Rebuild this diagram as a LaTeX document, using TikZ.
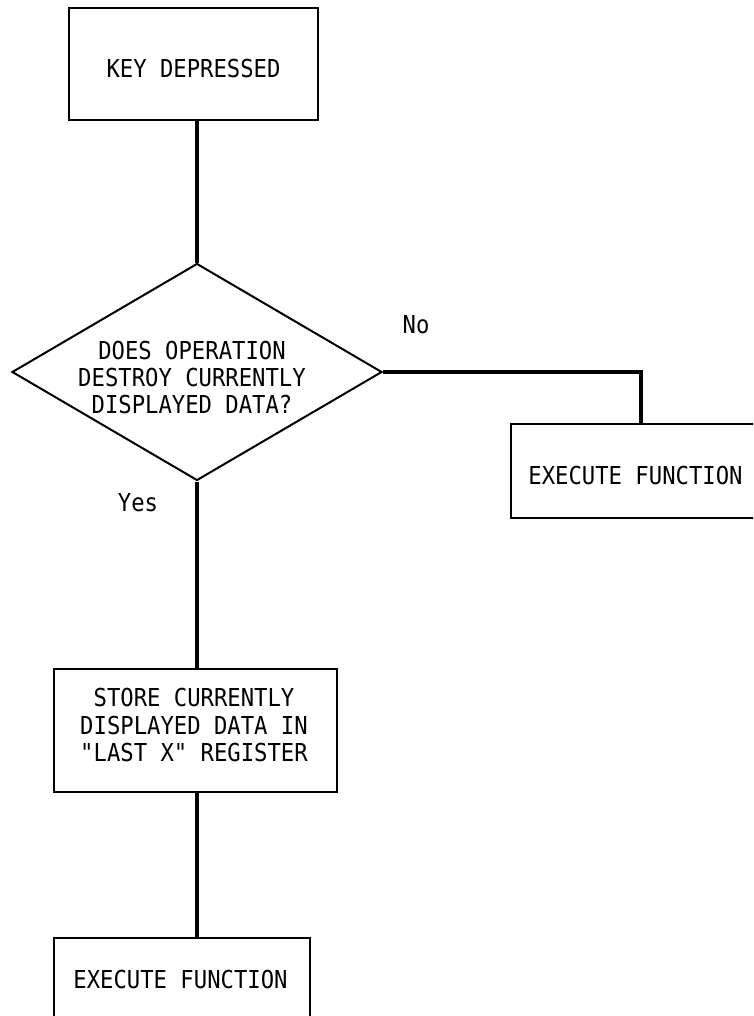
\documentclass[tikz,border=0pt]{standalone}
\usepackage{fontspec}
\newfontfamily\diagfont[FakeStretch=0.9]{DejaVu Sans Mono}
\usetikzlibrary{shapes.geometric}
\tikzset{
  boxshape/.style={draw, line width=2pt, rectangle, inner sep=0pt},
  diashape/.style={draw, line width=2pt, diamond, inner sep=0pt},
  txt/.style={font=\diagfont\fontsize{24.7}{27.3}\selectfont, inner sep=0pt, align=center},
  conn/.style={line width=4.2pt},
}
\begin{document}
\begin{tikzpicture}[x=1pt,y=-1pt]
\useasboundingbox (0,0) rectangle (753,1016);
\clip (0,0) rectangle (753,1016);
% boxes
\node[boxshape, minimum width=249pt, minimum height=112pt] (k) at (193.5,64) {};
\node[txt] (kt) at (193.5,69) {KEY DEPRESSED};
\node[diashape, minimum width=370pt, minimum height=217pt] (d) at (197,372) {};
\node[txt] (dt) at (192,377.5) {DOES OPERATION\\DESTROY CURRENTLY\\DISPLAYED DATA?};
\node[boxshape, minimum width=260pt, minimum height=94pt] (r) at (641,471) {};
\node[txt] (rt) at (635.5,476) {EXECUTE FUNCTION};
\node[boxshape, minimum width=283pt, minimum height=123pt] (s) at (195.5,730.5) {};
\node[txt] (st) at (194,725) {STORE CURRENTLY\\DISPLAYED DATA IN\\"LAST X" REGISTER};
\node[boxshape, minimum width=256pt, minimum height=100pt] (e) at (182,988) {};
\node[txt] (et) at (180.5,979) {EXECUTE FUNCTION};
% labels
\node[txt] (no) at (416,325) {No};
\node[txt] (yes) at (138,502.5) {Yes};
% connectors
\coordinate (ks) at (k.south -| d.north);
\coordinate (sn) at (s.north -| d.south);
\coordinate (ss) at (s.south -| d.south);
\coordinate (en) at (e.north -| d.south);
\draw[conn] (ks) -- (d.north);
\draw[conn] (d.east) -| (r.north);
\draw[conn] (d.south) -- (sn);
\draw[conn] (ss) -- (en);
\end{tikzpicture}
\end{document}
